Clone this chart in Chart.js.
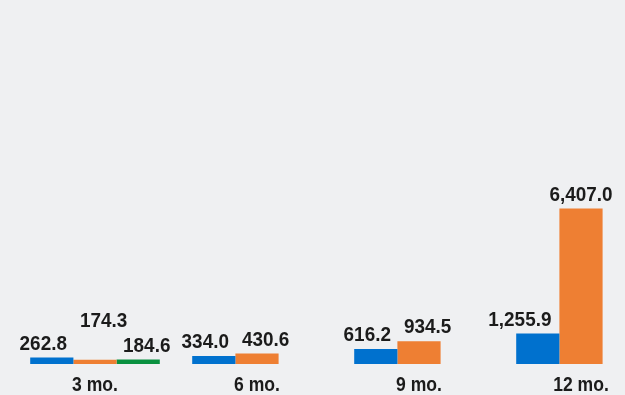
<!DOCTYPE html>
<html>
<head>
<meta charset="utf-8">
<script src="https://cdn.jsdelivr.net/npm/chart.js@4/dist/chart.umd.min.js"></script>
<style>
  html, body { margin: 0; padding: 0; background: #eff0f2; overflow: hidden; }
  #wrap { width: 625px; height: 395px; overflow: hidden; }
  canvas { display: block; }
</style>
</head>
<body>
<div id="wrap"><canvas id="chart" width="676" height="395"></canvas></div>
<script>
// --- data ---
const categories = ['3 mo.', '6 mo.', '9 mo.', '12 mo.'];
const seriesBlue = [262.8, 334.0, 616.2, 1255.9];
const seriesOrange = [174.3, 430.6, 934.5, 6407.0];
const seriesGreen = [184.6, null, null, null];

// narrow-ish bold look: Liberation Sans squeezed horizontally
const LABEL_FONT = 'bold 21px "Liberation Sans", Arial, sans-serif';
const TICK_FONT = 'bold 19.5px "Liberation Sans", Arial, sans-serif';
const SQUEEZE = 0.9;
const TEXT_COLOR = '#1b1b1b';

function fmt(v) {
    return v.toLocaleString('en-US', { minimumFractionDigits: 1, maximumFractionDigits: 1 });
}

function drawSqueezed(ctx, text, x, y) {
    ctx.save();
    ctx.translate(x, y);
    ctx.scale(SQUEEZE, 1);
    ctx.fillText(text, 0, 0);
    ctx.restore();
}

// value labels above bars (nudged apart when they collide) + category labels
const barLabels = {
    id: 'barLabels',
    afterDatasetsDraw(chart) {
        const ctx = chart.ctx;
        const GAP = 13, BAR_GAP = 8, LIFT = 8, TEXT_H = 15, RAISE = 25;
        ctx.save();
        ctx.font = LABEL_FONT;

        const bars = [];
        chart.data.datasets.forEach((ds, di) => {
            chart.getDatasetMeta(di).data.forEach((el, i) => {
                const v = ds.data[i];
                if (v === null || v === undefined) return;
                const p = el.getProps(['x', 'y', 'width'], true);
                bars.push({
                    cat: i, x: p.x, top: p.y,
                    left: p.x - p.width / 2, right: p.x + p.width / 2,
                    text: fmt(v)
                });
            });
        });

        const labels = bars.map(b => ({
            bar: b, cat: b.cat, text: b.text,
            w: ctx.measureText(b.text).width * SQUEEZE,
            cx: b.x, base: b.top - LIFT
        }));

        const vOverlap = (a, b) => a.base > b.base - TEXT_H && b.base > a.base - TEXT_H;

        // push neighbours in the same group apart, lift the middle one if squeezed twice
        categories.forEach((c, ci) => {
            const g = labels.filter(l => l.cat === ci).sort((a, b) => a.cx - b.cx);
            for (let k = 0; k < g.length - 1; k++) {
                const a = g[k], b = g[k + 1];
                if (!vOverlap(a, b)) continue;
                const need = (a.cx + a.w / 2 + GAP) - (b.cx - b.w / 2);
                if (need <= 0) continue;
                if (a.pushed) {
                    a.base -= RAISE;
                    b.cx += need / 3;
                    continue;
                }
                a.cx -= need / 2;
                b.cx += need / 2;
                b.pushed = true;
            }
        });

        // keep labels off other bars
        labels.forEach(l => {
            bars.forEach(b => {
                if (b === l.bar) return;
                if (l.base <= b.top + 1) return;
                const lLeft = l.cx - l.w / 2, lRight = l.cx + l.w / 2;
                if (lRight + BAR_GAP > b.left && lLeft - BAR_GAP < b.right) {
                    if (b.x > l.bar.x) l.cx = b.left - BAR_GAP - l.w / 2;
                    else l.cx = b.right + BAR_GAP + l.w / 2;
                }
            });
        });

        ctx.fillStyle = TEXT_COLOR;
        ctx.textAlign = 'center';
        ctx.textBaseline = 'alphabetic';
        labels.forEach(l => drawSqueezed(ctx, l.text, l.cx, l.base));

        // category labels under the groups
        const xs = chart.scales.x;
        ctx.font = TICK_FONT;
        categories.forEach((c, i) => {
            drawSqueezed(ctx, c, xs.getPixelForValue(i), chart.chartArea.bottom + 27);
        });
        ctx.restore();
    }
};

new Chart(document.getElementById('chart'), {
    type: 'bar',
    data: {
        labels: categories,
        datasets: [
            { label: 'Series 1', data: seriesBlue, backgroundColor: '#0071ce' },
            { label: 'Series 2', data: seriesOrange, backgroundColor: '#ee7f33' },
            { label: 'Series 3', data: seriesGreen, backgroundColor: '#0a9140' }
        ]
    },
    options: {
        responsive: false,
        animation: false,
        layout: { padding: { left: 14, right: 14, top: 0, bottom: 31 } },
        datasets: { bar: { categoryPercentage: 0.8, barPercentage: 1.0, borderWidth: 0 } },
        plugins: { legend: { display: false }, tooltip: { enabled: false } },
        scales: {
            x: { display: false },
            y: { display: false, min: 0, max: 15000 }
        }
    },
    plugins: [barLabels]
});
</script>
</body>
</html>
